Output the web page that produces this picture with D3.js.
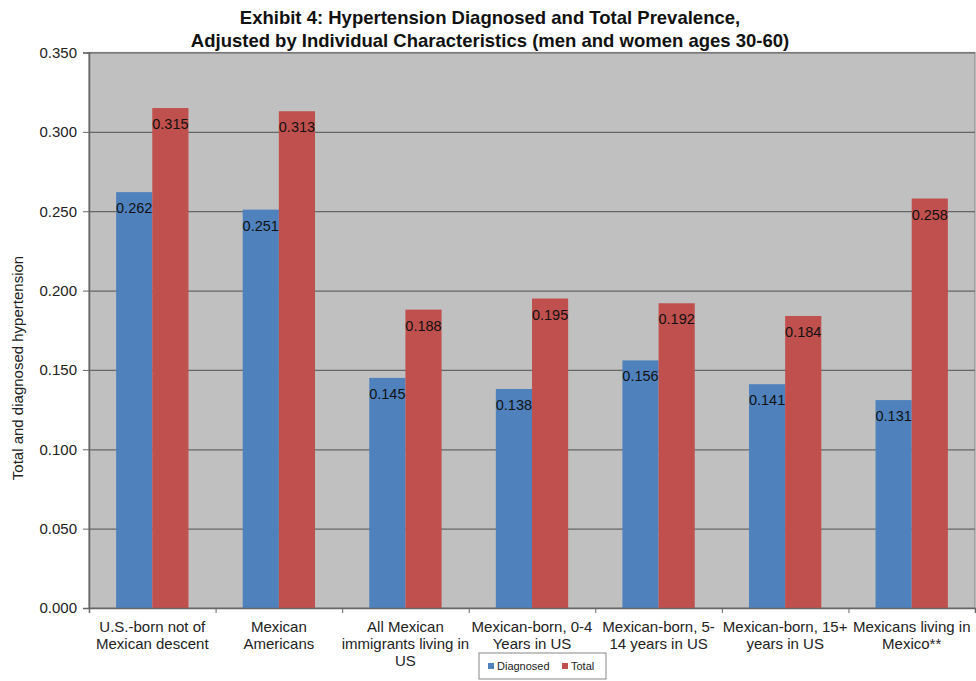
<!DOCTYPE html>
<html>
<head>
<meta charset="utf-8">
<script src="https://cdn.jsdelivr.net/npm/d3@7"></script>
<style>
  html, body { margin: 0; padding: 0; background: #ffffff; }
  svg { display: block; font-family: "Liberation Sans", Arial, sans-serif; }
</style>
</head>
<body>
<svg id="chart" width="976" height="681"></svg>
<script>
// Hypertension prevalence by nativity group
const categories = [
  "U.S.-born not of Mexican descent",
  "Mexican Americans",
  "All Mexican immigrants living in US",
  "Mexican-born, 0-4 Years in US",
  "Mexican-born, 5-14 years in US",
  "Mexican-born, 15+ years in US",
  "Mexicans living in Mexico**"
];
const categoryLines = [
  ["U.S.-born not of", "Mexican descent"],
  ["Mexican", "Americans"],
  ["All Mexican", "immigrants living in", "US"],
  ["Mexican-born, 0-4", "Years in US"],
  ["Mexican-born, 5-", "14 years in US"],
  ["Mexican-born, 15+", "years in US"],
  ["Mexicans living in", "Mexico**"]
];
const seriesNames = ["Diagnosed", "Total"];
const diagnosed = [0.262, 0.251, 0.145, 0.138, 0.156, 0.141, 0.131];
const total = [0.315, 0.313, 0.188, 0.195, 0.192, 0.184, 0.258];
const yTicks = [0, 0.05, 0.10, 0.15, 0.20, 0.25, 0.30, 0.35];
const titleLines = [
  "Exhibit 4: Hypertension Diagnosed and Total Prevalence,",
  "Adjusted by Individual Characteristics (men and women ages 30-60)"
];
const yTitle = "Total and diagnosed hypertension";

const colors = { Diagnosed: "#4f81bd", Total: "#c0504d" };

const svg = d3.select("#chart");
const plot = { left: 89, right: 975, top: 52.5, bottom: 608 };

const x = d3.scaleBand().domain(categories).range([plot.left, plot.right]).padding(0);
const xs = d3.scaleBand().domain(seriesNames).range([0, x.bandwidth()])
  .paddingInner(0).paddingOuter(0.75);
const y = d3.scaleLinear().domain([0, 0.35]).range([plot.bottom, plot.top]);

// Title
svg.append("g").selectAll("text").data(titleLines).join("text")
  .attr("x", 490).attr("y", (d, i) => 24 + i * 22.5)
  .attr("text-anchor", "middle")
  .attr("font-size", "18.5px").attr("font-weight", "bold").attr("fill", "#111")
  .text(d => d);

// Plot area background
svg.append("rect")
  .attr("x", plot.left).attr("y", plot.top)
  .attr("width", plot.right - plot.left).attr("height", plot.bottom - plot.top)
  .attr("fill", "#c0c0c0").attr("stroke", "#8c8c8c").attr("stroke-width", 1.2);

// Gridlines
svg.append("g")
  .attr("transform", `translate(${plot.left},0)`)
  .call(d3.axisLeft(y).tickValues(yTicks).tickSize(-(plot.right - plot.left)).tickFormat(""))
  .call(g => g.select(".domain").remove())
  .call(g => g.selectAll("line").attr("stroke", "#666").attr("stroke-width", 1.2));

// Bars
const groups = svg.append("g").selectAll("g").data(categories).join("g")
  .attr("transform", d => `translate(${x(d)},0)`);

const rows = categories.map((c, i) => [
  { key: "Diagnosed", value: diagnosed[i] },
  { key: "Total", value: total[i] }
]);

groups.selectAll("rect").data((d, i) => rows[i]).join("rect")
  .attr("x", d => xs(d.key))
  .attr("y", d => y(d.value))
  .attr("width", xs.bandwidth())
  .attr("height", d => y(0) - y(d.value))
  .attr("fill", d => colors[d.key]);

// Value labels just inside the top of each bar
groups.selectAll("text").data((d, i) => rows[i]).join("text")
  .attr("x", d => xs(d.key) + xs.bandwidth() / 2)
  .attr("y", d => y(d.value) + 16)
  .attr("dy", "0.35em")
  .attr("text-anchor", "middle")
  .attr("font-size", "14.5px").attr("fill", "#111")
  .text(d => d3.format(".3f")(d.value));

// Y axis
svg.append("g")
  .attr("transform", `translate(${plot.left},0)`)
  .call(d3.axisLeft(y).tickValues(yTicks).tickSize(6).tickPadding(6).tickFormat(d3.format(".3f")))
  .call(g => g.select(".domain").attr("stroke", "#666").attr("stroke-width", 1.5))
  .call(g => g.selectAll("line").attr("stroke", "#666"))
  .call(g => g.selectAll("text").attr("font-size", "15px").attr("fill", "#222")
    .attr("font-family", "'Liberation Sans', Arial, sans-serif"));

// X axis with tick marks at category boundaries
const xb = d3.scaleLinear().domain([0, categories.length]).range([plot.left, plot.right]);
svg.append("g")
  .attr("transform", `translate(0,${plot.bottom})`)
  .call(d3.axisBottom(xb).tickValues(d3.range(categories.length + 1)).tickSize(5).tickFormat(""))
  .call(g => g.select(".domain").attr("stroke", "#666").attr("stroke-width", 1.5))
  .call(g => g.selectAll("line").attr("stroke", "#666"));

// Category labels
const lab = svg.append("g").selectAll("text").data(categories).join("text")
  .attr("x", d => x(d) + x.bandwidth() / 2)
  .attr("y", 632)
  .attr("text-anchor", "middle")
  .attr("font-size", "15px").attr("fill", "#222");
lab.selectAll("tspan").data((d, i) => categoryLines[i]).join("tspan")
  .attr("x", function () { return d3.select(this.parentNode).attr("x"); })
  .attr("dy", (d, i) => i === 0 ? 0 : 17)
  .text(d => d);

// Y axis title
svg.append("text")
  .attr("transform", "translate(23,368) rotate(-90)")
  .attr("text-anchor", "middle")
  .attr("font-size", "15px").attr("fill", "#222")
  .text(yTitle);

// Legend
const legend = svg.append("g").attr("transform", "translate(479,653)");
legend.append("rect").attr("width", 127).attr("height", 26)
  .attr("fill", "#fff").attr("stroke", "#888").attr("stroke-width", 1);
const li = legend.selectAll("g").data(seriesNames).join("g")
  .attr("transform", (d, i) => `translate(${i === 0 ? 9 : 83},13)`);
li.append("rect").attr("x", 0).attr("y", -3).attr("width", 6).attr("height", 6)
  .attr("fill", d => colors[d]);
li.append("text").attr("x", 9).attr("dy", "0.35em")
  .attr("font-size", "11px").attr("fill", "#222").text(d => d);
</script>
</body>
</html>
